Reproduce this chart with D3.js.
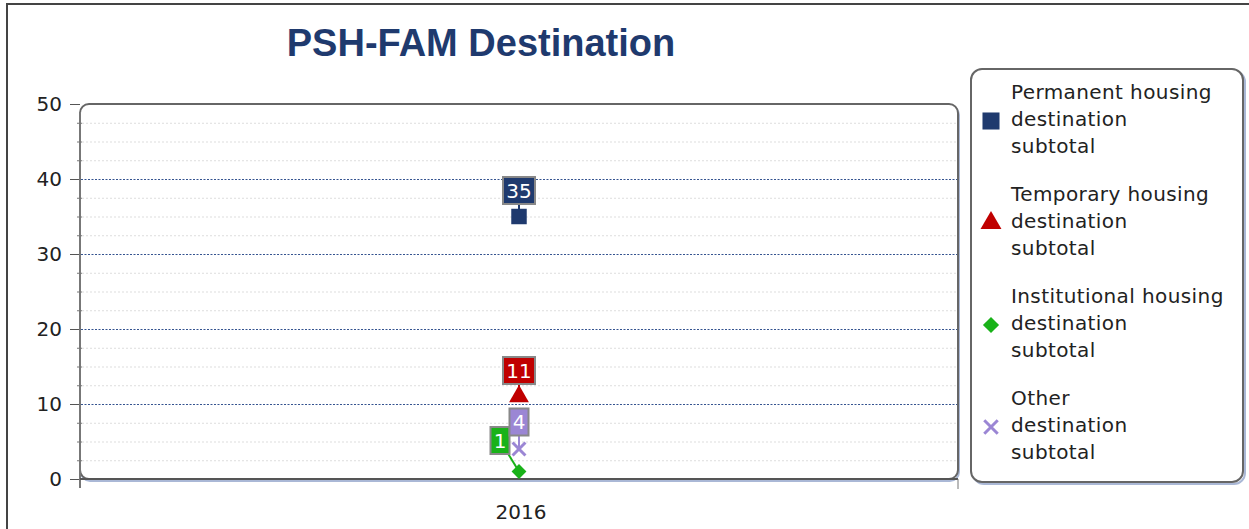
<!DOCTYPE html>
<html>
<head>
<meta charset="utf-8">
<script src="https://cdn.jsdelivr.net/npm/d3@7.9.0/dist/d3.min.js"></script>
<style>
  body { margin: 0; background: #fff; }
  svg { display: block; }
  text { font-family: "DejaVu Sans", sans-serif; }
</style>
</head>
<body>
<svg id="chart" width="1249" height="529"></svg>
<script>
// chart data
const title = 'PSH-FAM Destination';
const categories = ['2016'];
const seriesNames = [
  ['Permanent housing', 'destination', 'subtotal'],
  ['Temporary housing', 'destination', 'subtotal'],
  ['Institutional housing', 'destination', 'subtotal'],
  ['Other', 'destination', 'subtotal']
];
const seriesValues = [35, 11, 1, 4];
const yTicks = [0, 10, 20, 30, 40, 50];

// look of each series: square, triangle, diamond (rotated square), x
const colors = ['#1f3a6e', '#c00000', '#19b219', '#9b86d4'];
const symbols = [d3.symbolSquare, d3.symbolTriangle, d3.symbolSquare, d3.symbolTimes];
const rot = [0, 0, 45, 0];

const svg = d3.select('#chart');

// outer frame
svg.append('rect')
  .attr('x', 7).attr('y', 4).attr('width', 1260).attr('height', 540)
  .attr('fill', 'none').attr('stroke', '#444').attr('stroke-width', 2);

// title
svg.append('text')
  .attr('x', 481).attr('y', 56)
  .attr('text-anchor', 'middle')
  .style('font-family', '"Liberation Sans", Arial, sans-serif')
  .style('font-weight', 'bold')
  .style('font-size', '38px')
  .attr('fill', '#1f3a6e')
  .text(title);

// scales
const pLeft = 80, pRight = 958, pTop = 104, pBottom = 479;
const x = d3.scaleBand().domain(categories).range([pLeft, pRight]);
const y = d3.scaleLinear().domain([0, 50]).range([pBottom, pTop]);

// plot box with soft blue shadow
svg.append('rect')
  .attr('x', pLeft + 1).attr('y', pTop + 2).attr('width', pRight - pLeft).attr('height', pBottom - pTop)
  .attr('rx', 9).attr('fill', 'none').attr('stroke', '#aab8d6').attr('stroke-width', 2);
svg.append('rect')
  .attr('x', pLeft).attr('y', pTop).attr('width', pRight - pLeft).attr('height', pBottom - pTop)
  .attr('rx', 9).attr('fill', '#fff').attr('stroke', '#666').attr('stroke-width', 2);

// minor gridlines every 2.5
const minor = d3.range(0, 50.01, 2.5).filter(v => v % 10 !== 0);
svg.append('g').selectAll('line').data(minor).join('line')
  .attr('x1', pLeft + 2).attr('x2', pRight - 2)
  .attr('y1', d => y(d) + 0.5).attr('y2', d => y(d) + 0.5)
  .attr('stroke', '#ddd').attr('stroke-dasharray', '2,2');

// major gridlines
svg.append('g').selectAll('line').data(yTicks.filter(v => v > 0 && v < 50)).join('line')
  .attr('x1', pLeft + 1).attr('x2', pRight - 1)
  .attr('y1', d => y(d) + 0.5).attr('y2', d => y(d) + 0.5)
  .attr('stroke', '#34538f').attr('stroke-width', 1.2).attr('stroke-dasharray', '2,1.5');

// y axis
const yAxis = svg.append('g')
  .attr('transform', `translate(${pLeft},0)`)
  .call(d3.axisLeft(y).tickValues(yTicks).tickSize(10).tickPadding(8));
yAxis.select('.domain').remove();
yAxis.selectAll('.tick line').attr('stroke', '#555');
yAxis.selectAll('text').attr('fill', '#222').style('font-size', '20px');
svg.append('g').selectAll('line').data(minor).join('line')
  .attr('x1', pLeft - 3).attr('x2', pLeft + 2)
  .attr('y1', d => y(d) + 0.5).attr('y2', d => y(d) + 0.5)
  .attr('stroke', '#777');
svg.append('line')
  .attr('x1', pLeft).attr('x2', pLeft).attr('y1', pTop + 8).attr('y2', pBottom + 9)
  .attr('stroke', '#777').attr('stroke-width', 2);

// x axis
svg.append('line')
  .attr('x1', pLeft).attr('x2', pRight).attr('y1', pBottom).attr('y2', pBottom)
  .attr('stroke', '#555').attr('stroke-width', 2);
svg.append('line')
  .attr('x1', pRight).attr('x2', pRight).attr('y1', pBottom).attr('y2', pBottom + 10)
  .attr('stroke', '#777');
svg.append('g').selectAll('text').data(categories).join('text')
  .attr('x', d => x(d) + x.bandwidth() / 2 + 2).attr('y', 519)
  .attr('text-anchor', 'middle').attr('fill', '#222').style('font-size', '20px')
  .text(d => d);

// draws one marker of series i
function marker(g, i, px, py, size) {
  const p = g.append('path')
    .attr('d', d3.symbol(symbols[i], size)())
    .attr('transform', `translate(${px},${py}) rotate(${rot[i]})`);
  if (symbols[i] === d3.symbolTimes) {
    p.attr('fill', 'none').attr('stroke', colors[i]).attr('stroke-width', 3);
  } else {
    p.attr('fill', colors[i]);
  }
}

// points
const cx = x(categories[0]) + x.bandwidth() / 2;
const symSize = [240, 170, 110, 110];
const pts = svg.append('g');

// value labels with leader lines
const labelOff = [[0, -26], [0, -26], [-19, -31], [0, -27]];
const lab = svg.append('g');
seriesValues.forEach((v, i) => {
  const px = cx, py = y(v);
  const lx = px + labelOff[i][0], ly = py + labelOff[i][1];
  const txt = String(v);
  const w = txt.length * 13 + 6, h = 27;
  lab.append('line')
    .attr('x1', lx).attr('y1', ly).attr('x2', px).attr('y2', py)
    .attr('stroke', colors[i]).attr('stroke-width', 2);
  lab.append('rect')
    .attr('x', lx - w / 2).attr('y', ly - h / 2).attr('width', w).attr('height', h)
    .attr('fill', colors[i]).attr('stroke', '#888').attr('stroke-width', 2);
  lab.append('text')
    .attr('x', lx).attr('y', ly + 7)
    .attr('text-anchor', 'middle').attr('fill', '#fff').style('font-size', '20px')
    .text(txt);
  marker(pts, i, px, py, symSize[i]);
});
pts.raise();

// legend
svg.append('rect')
  .attr('x', 973).attr('y', 71).attr('width', 272).attr('height', 413)
  .attr('rx', 11).attr('fill', 'none').attr('stroke', '#aab8d6').attr('stroke-width', 2);
svg.append('rect')
  .attr('x', 971).attr('y', 69).attr('width', 272).attr('height', 413)
  .attr('rx', 11).attr('fill', '#fff').attr('stroke', '#666').attr('stroke-width', 2);
const legend = svg.append('g');
const legSize = [290, 190, 130, 120];
seriesNames.forEach((lines, i) => {
  const base = 99 + i * 102;
  marker(legend, i, 991, base + 22, legSize[i]);
  legend.append('text')
    .attr('x', 1011).attr('y', base)
    .attr('fill', '#222').style('font-size', '20px').style('letter-spacing', '0.4px')
    .selectAll('tspan').data(lines).join('tspan')
    .attr('x', 1011).attr('dy', (d, j) => j === 0 ? 0 : 27)
    .text(d => d);
});
</script>
</body>
</html>
